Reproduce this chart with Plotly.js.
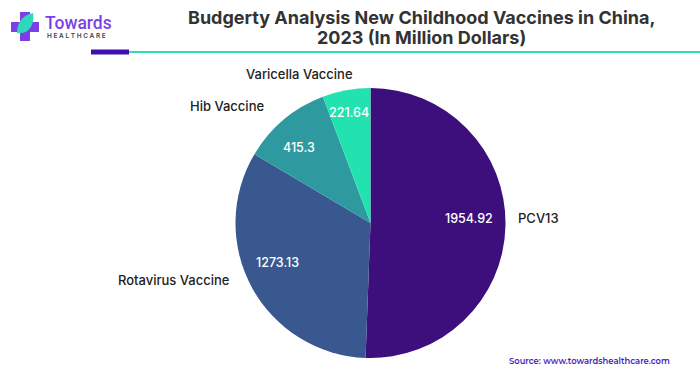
<!DOCTYPE html>
<html><head><meta charset="utf-8">
<script src="https://cdn.plot.ly/plotly-3.0.1.min.js"></script>
<style>html,body{margin:0;padding:0;background:#fff}#c{width:700px;height:376px}</style></head>
<body><div id="c"></div>
<script>
const categories = ["PCV13","Rotavirus Vaccine","Hib Vaccine","Varicella Vaccine"];
const values = [1954.92,1273.13,415.3,221.64];
const valueLabels = ["1954.92","1273.13","415.3","221.64"];
const colors = ["#3d0f7d","#3a5890","#2e9aa0","#22e2b0"];
const W=700,H=376;
const px=x=>x/W, py=y=>1-y/H;
const font="Inter, 'Liberation Sans', sans-serif";
function note(x,y,text,size,color,anchor,weight,family){
  return {xref:'paper',yref:'paper',x:px(x),y:py(y),text,showarrow:false,xanchor:anchor||'center',yanchor:'middle',
    font:{family:family||font,size,color,weight:weight||400}};
}
function poly(pts){return 'M'+pts.map(p=>px(p[0])+','+py(p[1])).join('L')+'Z';}
const leaf='M'+px(17)+','+py(33)+' C'+px(17)+','+py(21)+' '+px(24)+','+py(15)+' '+px(33)+','+py(13)+' C'+px(35)+','+py(24)+' '+px(29)+','+py(35)+' '+px(17)+','+py(33)+' Z';
const shapes=[
 {type:'path',xref:'paper',yref:'paper',path:poly([[20,12],[30,12],[30,22],[39,22],[39,32],[30,32],[30,41],[20,41],[20,32],[11,32],[11,22],[20,22]]),fillcolor:'#7b3fe8',line:{width:0}},
 {type:'path',xref:'paper',yref:'paper',path:leaf,fillcolor:'#2ed8b8',line:{width:0}},
 {type:'rect',xref:'paper',yref:'paper',x0:px(91),x1:px(129),y0:py(54.5),y1:py(49.5),fillcolor:'#3f0fb0',line:{width:0}},
 {type:'line',xref:'paper',yref:'paper',x0:px(129),x1:px(700),y0:py(52),y1:py(52),line:{color:'#2ee0b0',width:2}}
];
const annotations=[
 note(421,18,"Budgerty Analysis New Childhood Vaccines in China,",18,"#333333",'center',700),
 note(421,37,"2023 (In Million Dollars)",18,"#333333",'center',700),
 note(43,23,"Towards",17.5,"#7b3fe8",'left',500,"Roboto, sans-serif"),
 note(45,36,"H E A L T H C A R E",6.5,"#444444",'left',600),
 note(299,74,categories[3],13,"#222222",'center',500),
 note(227,106,categories[2],13,"#222222",'center',500),
 note(174,280,categories[1],13,"#222222",'center',500),
 note(538,218,categories[0],13,"#222222",'center',500),
 note(469,218,valueLabels[0],12.5,"#ffffff",'center',500),
 note(277,262,valueLabels[1],12.5,"#ffffff",'center',500),
 note(298.5,147,valueLabels[2],12.5,"#ffffff",'center',500),
 note(348.5,112,valueLabels[3],12.5,"#ffffff",'center',500),
 note(589.5,361,"Source: www.towardshealthcare.com",8.4,"#4a1fc0",'center',600,"Montserrat, 'Open Sans', sans-serif")
];
Plotly.newPlot('c',[{
  type:'pie',labels:categories,values:values,textinfo:'none',
  sort:false,direction:'clockwise',rotation:0,
  marker:{colors:colors,line:{width:0}},
  domain:{x:[px(235.5),px(505.5)],y:[py(358),py(88)]},showlegend:false,hoverinfo:'label+value'
}],{width:W,height:H,margin:{l:0,r:0,t:0,b:0},paper_bgcolor:'#fff',shapes,annotations,showlegend:false},{displayModeBar:false,staticPlot:true});
</script></body></html>
